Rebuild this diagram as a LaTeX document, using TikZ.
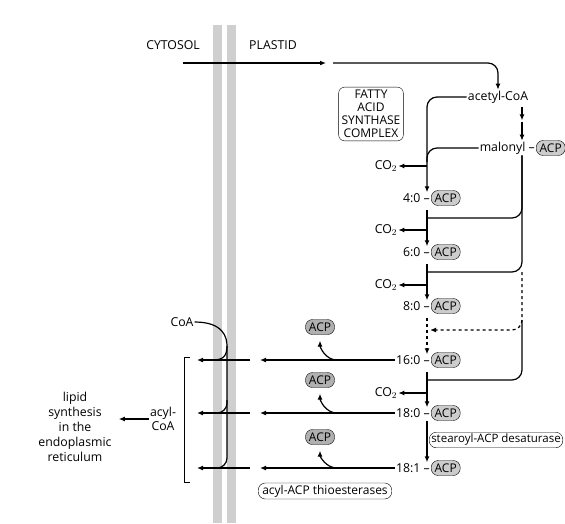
\documentclass[tikz,border=0pt]{standalone}
\usepackage{fontspec}
\setmainfont{Open Sans}
\usetikzlibrary{arrows.meta}

\tikzset{
  main/.style={line width=1.2pt},
  flow/.style={main,-{Latex[length=6pt,width=5pt]}},
  lbl/.style={font=\fontsize{12.3}{14}\selectfont,inner sep=1pt},
  acp/.style={draw,thin,rounded corners=7pt,fill=gray!40,inner sep=1pt,
    minimum height=15pt,minimum width=29pt,font=\fontsize{12}{13}\selectfont},
  freeacp/.style={acp,fill=gray!62},
  enz/.style={draw,thin,rounded corners=7pt,inner sep=2pt,font=\fontsize{12}{13}\selectfont},
}

\begin{document}
\begin{tikzpicture}[x=1pt,y=-1pt]
  \useasboundingbox (0,0) rectangle (565,523);
  \fill[gray!38] (213,25) rectangle (222,523);
  \fill[gray!38] (227,25) rectangle (236,523);

  % columns
  \coordinate (cx) at (427,0);
  \coordinate (rx) at (522,0);
  \coordinate (rel) at (337,0);
  \coordinate (mr) at (260,0);
  \coordinate (ml) at (250,0);
  \coordinate (tl) at (197,0);

  \node[lbl] (cyt) at (173,45) {CYTOSOL};
  \node[lbl] (pla) at (273,45) {PLASTID};

  \node[lbl] (acet) at (498,97) {acetyl-CoA};
  \node[enz,align=center,rounded corners=6pt,inner sep=3pt] (fas) at (371,114)
    {FATTY\\ACID\\SYNTHASE\\COMPLEX};
  \node[lbl,anchor=east] (mal) at (536,148) {malonyl –};
  \node[acp,anchor=west] (amal) at (mal.east) {ACP};

  \foreach \n/\t/\y in {r40/4:0/198,r60/6:0/252,r80/8:0/306,r160/16:0/360,r180/18:0/413,r181/18:1/468}{
    \node[lbl,anchor=east] (\n) at (431,\y) {\t\ –};
    \node[acp,anchor=west] (a\n) at (\n.east) {ACP};
  }

  \node[lbl] (co1) at (386,166) {CO$_2$};
  \node[lbl] (co2) at (386,230) {CO$_2$};
  \node[lbl] (co3) at (386,285) {CO$_2$};
  \node[lbl] (co4) at (386,393) {CO$_2$};

  \node[freeacp] (f1) at (320,327) {ACP};
  \node[freeacp] (f2) at (320,380) {ACP};
  \node[freeacp] (f3) at (320,437) {ACP};

  \node[enz,font=\fontsize{11.5}{13}\selectfont] (des) at (496,440) {stearoyl-ACP desaturase};
  \node[enz,inner xsep=4pt] (thio) at (325,491) {acyl-ACP thioesterases};

  \node[lbl] (coa) at (182,322) {CoA};
  \node[lbl,align=center] (acoa) at (163,419) {acyl-\\CoA};
  \node[lbl,align=center,font=\fontsize{12.3}{15}\selectfont] (lip) at (75,427)
    {lipid\\synthesis\\in the\\endoplasmic\\reticulum};

  % entry
  \draw[flow] (183,63) -- (326,63);
  \draw[flow,rounded corners=10pt] (333,63) -| (acet.north);
  \draw[flow] (acet.south -| rx) ++(0,3) -- ++(0,13);
  \draw[flow] (acet.south -| rx) ++(0,18) -- (mal.north -| rx);

  % chain
  \draw[flow,rounded corners=10pt] (acet.west) -| (r40.north -| cx);
  \draw[main,rounded corners=10pt] (mal.west) -| (427,162);
  \draw[flow] (co1.east -| cx) -- (co1.east);
  \draw[flow,shorten <=6pt] (r40.south -| cx) -- (r60.north -| cx);
  \draw[flow] (co2.east -| cx) -- (co2.east);
  \draw[flow,shorten <=6pt] (r60.south -| cx) -- (r80.north -| cx);
  \draw[flow] (co3.east -| cx) -- (co3.east);
  \draw[flow,dashed,shorten <=6pt] (r80.south -| cx) -- (r160.north -| cx);
  \draw[flow,shorten <=6pt] (r160.south -| cx) -- (r180.north -| cx);
  \draw[flow] (co4.east -| cx) -- (co4.east);
  \draw[flow,shorten <=2pt] (r180.south -| cx) -- (r181.north -| cx);

  % malonyl feed
  \draw[main,rounded corners=10pt] (mal.south -| rx) |- (427,218);
  \draw[main,rounded corners=10pt] (mal.south -| rx) |- (427,272);
  \draw[flow,dashed,rounded corners=10pt] (522,272) |- (430,330);
  \draw[main,rounded corners=10pt] (522,320) |- (427,380);

  % release
  \foreach \n/\f in {r160/f1,r180/f2,r181/f3}{
    \draw[flow] (\n.west) -- (\n.west -| mr);
    \draw[flow,shorten >=6pt] (\n.west -| rel) to[out=180,in=-90] (\f.south);
    \draw[flow] (\n.west -| ml) -- (\n.west -| tl);
  }

  % CoA
  \draw[main] (coa.east) .. controls (224,322) and (227,338) .. (227,346)
    .. controls (227,356) and (223,360) .. (213,360);
  \draw[main,rounded corners=10pt] (227,346) |- (213,468);
  \draw[main,rounded corners=10pt] (227,400) |- (213,413);

  \draw[thin] (190,357) -- (184,357) -- (184,482) -- (190,482);
  \draw[flow,shorten >=6pt] (acoa.west) -- (acoa.west -| lip.east);
\end{tikzpicture}
\end{document}
